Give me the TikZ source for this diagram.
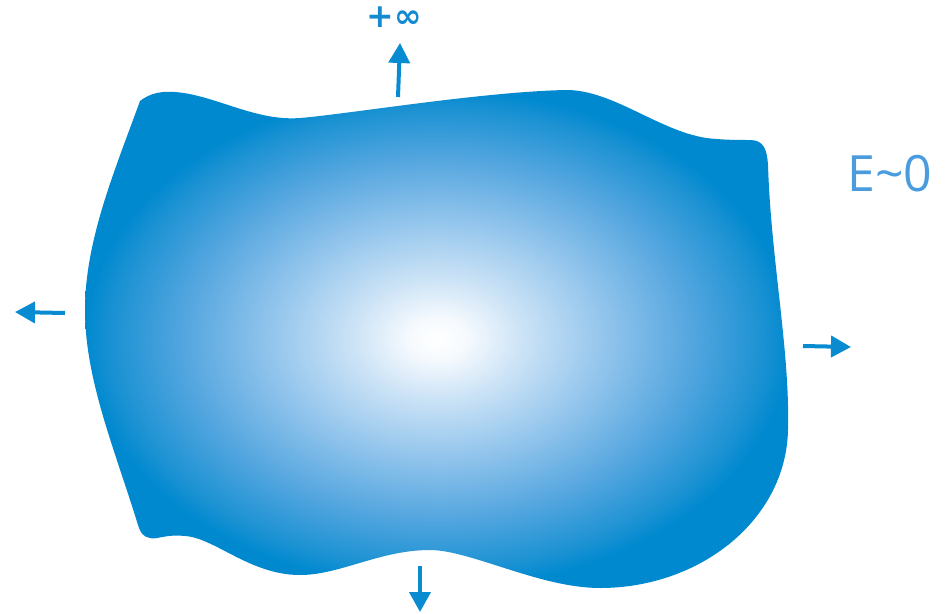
\documentclass[tikz,border=0pt]{standalone}
\usepackage{fontspec}
\setmainfont{Open Sans}
\newfontfamily\djb{DejaVu Sans Bold}
\usetikzlibrary{arrows.meta}
\definecolor{edgeblue}{RGB}{0,137,207}
\definecolor{arrowblue}{RGB}{8,139,209}
\definecolor{eblue}{RGB}{74,156,222}
\definecolor{infblue}{RGB}{20,138,208}
\definecolor{sa}{RGB}{246,250,254}
\definecolor{sb}{RGB}{204,227,246}
\definecolor{sc}{RGB}{145,196,236}
\definecolor{sd}{RGB}{84,166,223}
\definecolor{se}{RGB}{28,146,211}
\pgfdeclareradialshading{blob}{\pgfpoint{0bp}{0bp}}{color(0bp)=(white); color(2bp)=(sa); color(6bp)=(sb); color(12bp)=(sc); color(18bp)=(sd); color(23bp)=(se); color(25bp)=(edgeblue); color(50bp)=(edgeblue)}
\begin{document}
\begin{tikzpicture}[x=1pt,y=-1pt,
  arr/.style={-{Triangle[length=20pt,width=21pt]}, line width=4pt, draw=arrowblue},
  lbl/.style={inner sep=0pt}]
\useasboundingbox (0,0) rectangle (947,613);
\shade[shading=blob] (140,101)
  .. controls (150,93) and (162,91) .. (175,92)
  .. controls (215,95) and (255,121.5) .. (300,118)
  .. controls (345,114.5) and (480,92) .. (565,90)
  .. controls (615,89) and (665,137) .. (717,139)
  .. controls (728,140) and (740,140) .. (750,140)
  .. controls (764,140) and (767,150) .. (768,165)
  .. controls (771,260) and (790,350) .. (788,430)
  .. controls (786,520) and (700,588) .. (600,588)
  .. controls (540,588) and (470,550) .. (430,550)
  .. controls (380,550) and (340,575) .. (300,575)
  .. controls (250,575) and (215,538) .. (185,536)
  .. controls (165,534) and (156,540) .. (150,538)
  .. controls (143,537) and (140,532) .. (138,525)
  .. controls (115,450) and (85,380) .. (85,310)
  .. controls (85,240) and (115,170) .. (140,101) -- cycle;
\coordinate (upS) at (398,97);  \coordinate (upE) at (400,43);
\coordinate (lfS) at (65,313);  \coordinate (lfE) at (15,312);
\coordinate (rtS) at (803,346); \coordinate (rtE) at (851,347);
\coordinate (dnS) at (420,566); \coordinate (dnE) at (420,612);
\draw[arr] (upS) -- (upE);
\draw[arr] (lfS) -- (lfE);
\draw[arr] (rtS) -- (rtE);
\draw[arr] (dnS) -- (dnE);
\node[lbl, text=infblue, font=\djb\fontsize{33}{33}\selectfont] (inf) at (394,17) {+∞};
\node[lbl, text=eblue, font=\fontsize{50}{50}\selectfont] (e0) at (890,174) {E\textasciitilde 0};
\end{tikzpicture}
\end{document}
